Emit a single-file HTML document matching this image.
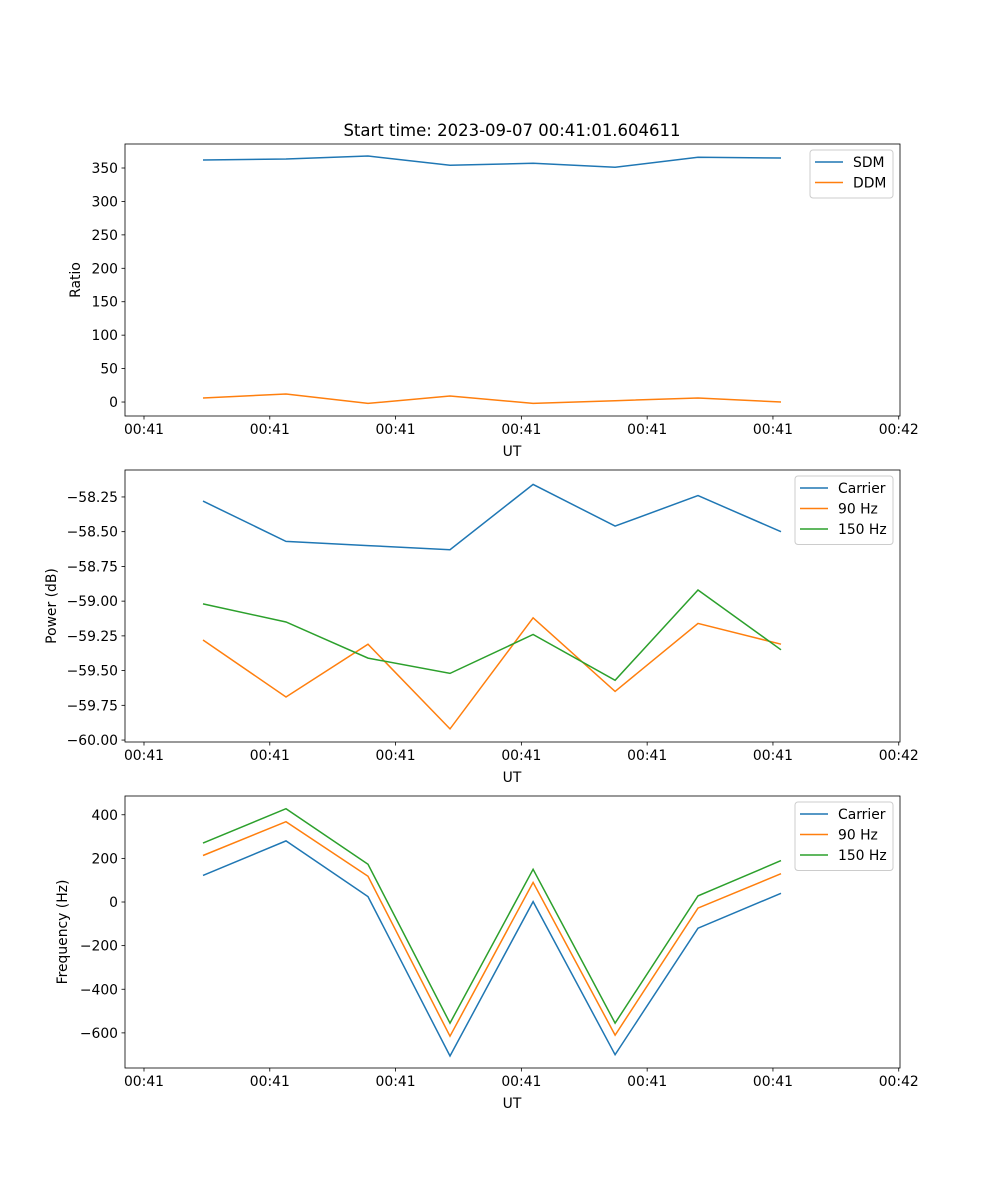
<!DOCTYPE html>
<html><head><meta charset="utf-8"><style>
body{margin:0;background:#fff}
svg{display:block;font-family:"DejaVu Sans","Liberation Sans",sans-serif}
</style></head><body>
<svg id="fig" width="1000" height="1200" xmlns="http://www.w3.org/2000/svg">
<text x="512" y="136" font-size="16.5" text-anchor="middle">Start time: 2023-09-07 00:41:01.604611</text>
</svg>
<script>
const times = [0.469, 1.129, 1.781, 2.433, 3.093, 3.745, 4.404, 5.064];
const xTicks = [0, 1, 2, 3, 4, 5, 6];
const xTickLabels = ["00:41","00:41","00:41","00:41","00:41","00:41","00:42"];
const sdm = [362, 363.5, 368, 354, 357, 351, 366, 365];
const ddm = [6, 12, -2, 9, -2, 2, 6, 0];
const powCarrier = [-58.28, -58.57, -58.60, -58.63, -58.16, -58.46, -58.24, -58.50];
const pow90 = [-59.28, -59.69, -59.31, -59.92, -59.12, -59.65, -59.16, -59.31];
const pow150 = [-59.02, -59.15, -59.41, -59.52, -59.24, -59.57, -58.92, -59.35];
const freqCarrier = [122, 280, 25, -706, 2, -700, -120, 40];
const freq90 = [213, 368, 118, -615, 90, -610, -28, 130];
const freq150 = [270, 428, 173, -555, 150, -555, 28, 190];
const ratioTicks = [0, 50, 100, 150, 200, 250, 300, 350];
const powTicks = [-60.00, -59.75, -59.50, -59.25, -59.00, -58.75, -58.50, -58.25];
const freqTicks = [-600, -400, -200, 0, 200, 400];

const NS = "http://www.w3.org/2000/svg";
const svg = document.getElementById("fig");
const C = ["#1f77b4", "#ff7f0e", "#2ca02c"];
function mk(tag, attrs, parent) {
  const e = document.createElementNS(NS, tag);
  for (const k in attrs) e.setAttribute(k, attrs[k]);
  (parent || svg).appendChild(e);
  return e;
}
const L = 125, R = 900, xMin = -0.151, xMax = 6.01;
function xs(v) { return L + (v - xMin) / (xMax - xMin) * (R - L); }

function panel(name, top, yMin, yMax, yTicks, fmt, ylabel, ylabelX, series, names, legend) {
  const bot = top + 272;
  const ys = v => bot - (v - yMin) / (yMax - yMin) * (bot - top);
  const g = mk("g", {});
  
  
  series.forEach((s, i) => {
    const d = s.map((v, j) => (j ? "L" : "M") + xs(times[j]).toFixed(1) + " " + ys(v).toFixed(1)).join(" ");
    const p = mk("path", { d: d, fill: "none", stroke: C[i], "stroke-width": 1.5 }, g);
    
    
  });
  const fr = mk("rect", { x: L, y: top, width: R - L, height: bot - top, fill: "none", stroke: "#000", "stroke-width": 0.8 }, g);
  
  
  xTicks.forEach((t, i) => {
    const x = xs(t);
    mk("line", { x1: x, x2: x, y1: bot, y2: bot + 3.5, stroke: "#000", "stroke-width": 0.8 }, g);
    const tx = mk("text", { x: x, y: bot + 18, "font-size": 13.9, "text-anchor": "middle" }, g);
    tx.textContent = xTickLabels[i];
    
    
  });
  yTicks.forEach(t => {
    const y = ys(t);
    mk("line", { x1: L, x2: L - 3.5, y1: y, y2: y, stroke: "#000", "stroke-width": 0.8 }, g);
    const tx = mk("text", { x: L - 7, y: y + 5, "font-size": 13.9, "text-anchor": "end" }, g);
    tx.textContent = fmt(t);
    
    
  });
  const xl = mk("text", { x: 512, y: bot + 40, "font-size": 13.9, "text-anchor": "middle" }, g);
  xl.textContent = "UT";
  
  
  const cy = (top + bot) / 2;
  const yl = mk("text", { x: ylabelX, y: cy, "font-size": 13.9, "text-anchor": "middle", transform: "rotate(-90 " + ylabelX + " " + cy + ")" }, g);
  yl.textContent = ylabel;
  
  
  const lg = mk("g", {}, g);
  
  
  mk("rect", { x: legend.x, y: top + 6, width: R - 7 - legend.x, height: names.length * 20.5 + 7, rx: 3, fill: "#fff", stroke: "#ccc", "stroke-width": 1 }, lg);
  names.forEach((n, i) => {
    const y = top + 18 + i * 20.5;
    mk("line", { x1: legend.x + 5, x2: legend.x + 33, y1: y, y2: y, stroke: C[i], "stroke-width": 1.5 }, lg);
    const t = mk("text", { x: legend.x + 43, y: y + 5, "font-size": 13.9 }, lg);
    t.textContent = n;
    
    
  });
}
panel("ratio-panel", 144, -20.9, 385.9, ratioTicks, v => String(v), "Ratio", 80, [sdm, ddm], ["SDM", "DDM"], { x: 810 });
panel("power-panel", 470, -60.014, -58.056, powTicks, v => v.toFixed(2).replace("-", "\u2212"), "Power (dB)", 56, [powCarrier, pow90, pow150], ["Carrier", "90 Hz", "150 Hz"], { x: 795 });
panel("frequency-panel", 796, -761, 486, freqTicks, v => String(v).replace("-", "\u2212"), "Frequency (Hz)", 67, [freqCarrier, freq90, freq150], ["Carrier", "90 Hz", "150 Hz"], { x: 795 });
</script>
</body></html>
